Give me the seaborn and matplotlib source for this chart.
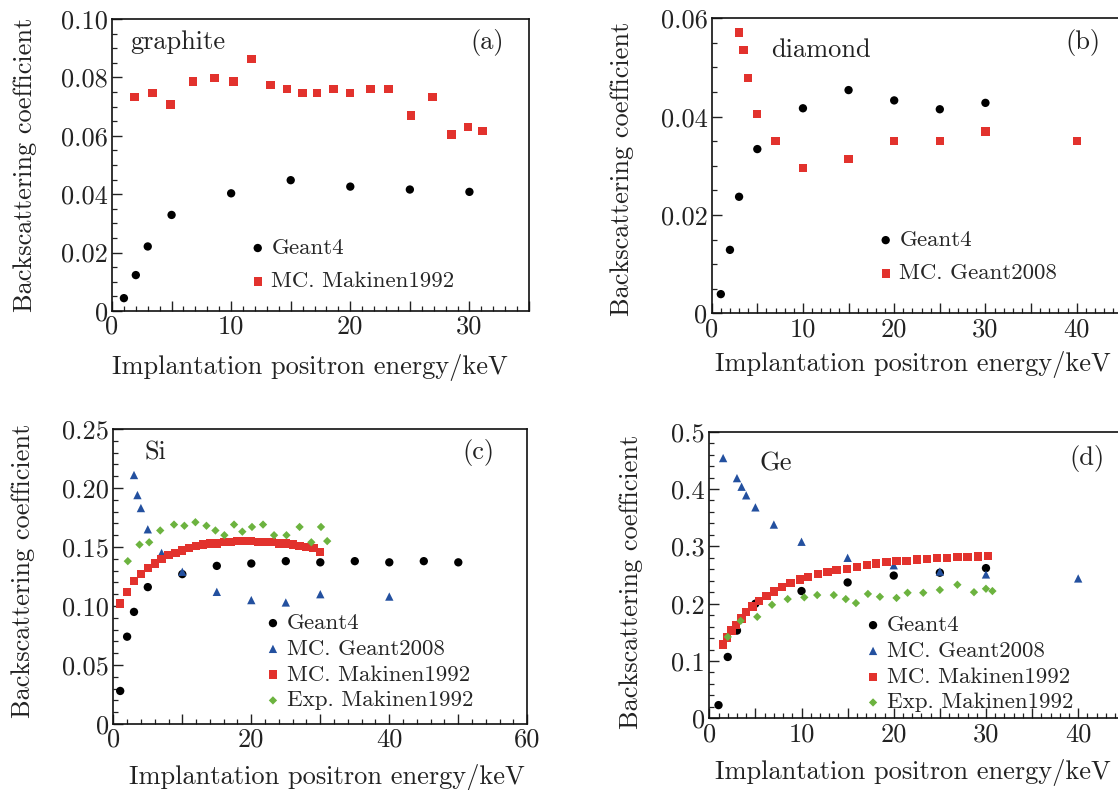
import seaborn as sns
import matplotlib.pyplot as plt
from matplotlib.ticker import MultipleLocator, FuncFormatter

# ---- data ----
# (a) graphite
graphite_geant4_x = [1, 2, 3, 5, 10, 15, 20, 25, 30]
graphite_geant4_y = [0.0044, 0.0123, 0.0221, 0.0329, 0.0403, 0.0448, 0.0426, 0.0416, 0.0408]
graphite_mak_x = [1.9, 3.4, 4.9, 6.8, 8.6, 10.2, 11.7, 13.3, 14.7, 16.0, 17.2, 18.6, 20.0, 21.7,
                  23.2, 25.1, 26.9, 28.5, 29.9, 31.1]
graphite_mak_y = [0.0734, 0.0747, 0.0707, 0.0786, 0.0799, 0.0786, 0.0864, 0.0774, 0.0760, 0.0747,
                  0.0747, 0.0760, 0.0747, 0.0760, 0.0760, 0.0669, 0.0734, 0.0604, 0.0630, 0.0617]

# (b) diamond
diamond_geant4_x = [1, 2, 3, 5, 10, 15, 20, 25, 30]
diamond_geant4_y = [0.0039, 0.0129, 0.0237, 0.0334, 0.0417, 0.0454, 0.0433, 0.0415, 0.0428]
diamond_g2008_x = [3, 3.5, 4, 5, 7, 10, 15, 20, 25, 30, 40]
diamond_g2008_y = [0.0571, 0.0535, 0.0479, 0.0406, 0.0351, 0.0296, 0.0314, 0.0351, 0.0351, 0.0370, 0.0351]

# (c) Si
si_geant4_x = [1, 2, 3, 5, 10, 15, 20, 25, 30, 35, 40, 45, 50]
si_geant4_y = [0.028, 0.074, 0.095, 0.116, 0.127, 0.134, 0.136, 0.138, 0.137, 0.138, 0.137, 0.138, 0.137]
si_g2008_x = [3, 3.5, 4, 5, 7, 10, 15, 20, 25, 30, 40]
si_g2008_y = [0.211, 0.194, 0.183, 0.165, 0.145, 0.129, 0.112, 0.105, 0.103, 0.110, 0.108]
si_mc_x = list(range(1, 31))
si_mc_y = [0.102, 0.112, 0.121, 0.127, 0.132, 0.136, 0.140, 0.143, 0.145, 0.147,
           0.149, 0.151, 0.152, 0.153, 0.153, 0.154, 0.154, 0.155, 0.155, 0.155,
           0.154, 0.154, 0.154, 0.153, 0.153, 0.152, 0.151, 0.150, 0.149, 0.146]
si_exp_x = [2.1, 3.8, 5.2, 6.8, 8.8, 10.3, 11.9, 13.5, 14.8, 16.1, 17.5, 18.7, 20.1, 21.7,
            23.3, 25.1, 27.0, 28.7, 30.1, 31.0]
si_exp_y = [0.138, 0.152, 0.154, 0.164, 0.169, 0.168, 0.171, 0.168, 0.164, 0.160, 0.169, 0.163,
            0.167, 0.169, 0.160, 0.160, 0.167, 0.154, 0.167, 0.155]

# (d) Ge
ge_geant4_x = [1, 2, 3, 5, 10, 15, 20, 25, 30]
ge_geant4_y = [0.023, 0.107, 0.153, 0.200, 0.222, 0.237, 0.249, 0.254, 0.262]
ge_g2008_x = [1.5, 3, 3.5, 4, 5, 7, 10, 15, 20, 25, 30, 40]
ge_g2008_y = [0.454, 0.419, 0.404, 0.389, 0.368, 0.338, 0.308, 0.280, 0.267, 0.256, 0.251, 0.244]
ge_mc_x = [1.5, 1.9, 2.4, 2.9, 3.5, 4.0, 4.7, 5.4, 6.2, 7.0, 7.9, 8.8, 9.8, 10.7, 11.8, 12.8,
           13.8, 14.9, 16.0, 17.1, 18.1, 19.2, 20.3, 21.4, 22.5, 23.6, 24.7, 25.8, 26.9, 28.0,
           29.1, 30.2]
ge_mc_y = [0.129, 0.141, 0.153, 0.163, 0.174, 0.186, 0.195, 0.205, 0.213, 0.221, 0.229, 0.236,
           0.242, 0.247, 0.252, 0.255, 0.259, 0.261, 0.264, 0.267, 0.270, 0.273, 0.274, 0.275,
           0.277, 0.278, 0.280, 0.280, 0.281, 0.281, 0.282, 0.283]
ge_exp_x = [2.0, 3.4, 5.2, 6.8, 8.5, 10.3, 11.7, 13.5, 14.8, 15.9, 17.2, 18.5, 20.3, 21.5,
            23.2, 25.0, 26.9, 28.7, 30.0, 30.7]
ge_exp_y = [0.142, 0.170, 0.177, 0.198, 0.208, 0.211, 0.215, 0.215, 0.208, 0.201, 0.217, 0.212,
            0.210, 0.219, 0.219, 0.224, 0.233, 0.220, 0.226, 0.222]

# ---- style ----
sns.set_style("ticks")
plt.rcParams['font.family'] = ['cmr10', 'DejaVu Serif']
plt.rcParams['mathtext.fontset'] = 'cm'
plt.rcParams['axes.formatter.use_mathtext'] = True
plt.rcParams['axes.unicode_minus'] = False

RED = "#e2322d"
BLUE = "#23509f"
GREEN = "#6cb33f"
BLACK = "#000000"
FS = 19
LEG_FS = 16.5

W, H = 1118, 790
fig = plt.figure(figsize=(W / 100, H / 100), dpi=100)


def px_axes(left, top, width, height):
    return fig.add_axes([left / W, 1 - (top + height) / H, width / W, height / H])


def style(ax, xlim, ylim, xmaj, xmin, xlab_every, ymaj, ymin, ydec):
    ax.set_xlim(*xlim)
    ax.set_ylim(*ylim)
    ax.xaxis.set_major_locator(MultipleLocator(xmaj))
    ax.xaxis.set_minor_locator(MultipleLocator(xmin))
    ax.yaxis.set_major_locator(MultipleLocator(ymaj))
    ax.yaxis.set_minor_locator(MultipleLocator(ymin))
    ax.xaxis.set_major_formatter(FuncFormatter(
        lambda v, p: str(int(round(v))) if abs(v / xlab_every - round(v / xlab_every)) < 1e-6 else ""))
    ax.yaxis.set_major_formatter(FuncFormatter(
        lambda v, p: "0" if abs(v) < 1e-9 else f"{v:.{ydec}f}"))
    ax.tick_params(which='both', direction='in', top=False, right=False,
                   labelsize=FS, colors='#222222', pad=3)
    ax.tick_params(which='major', length=7, width=1)
    ax.tick_params(which='minor', length=3.5, width=0.9)
    for s in ax.spines.values():
        s.set_visible(True)
        s.set_linewidth(1.2)
        s.set_color('#111111')
    ax.set_xlabel("Implantation positron energy/keV", fontsize=FS, color='#222222')
    ax.set_ylabel("Backscattering coefficient", fontsize=FS, color='#222222')
    ax.xaxis.label.set_va('center')
    ax.yaxis.label.set_va('center')


def pts(ax, x, y, label, color, marker, s):
    sns.scatterplot(x=x, y=y, ax=ax, label=label, color=color, marker=marker,
                    s=s, linewidth=0, edgecolor='none')


S_DOT, S_SQ, S_TRI, S_DIA = 36, 36, 36, 18

# (a) graphite
ax = px_axes(112, 19, 417, 292)
pts(ax, graphite_geant4_x, graphite_geant4_y, "Geant4", BLACK, 'o', S_DOT)
pts(ax, graphite_mak_x, graphite_mak_y, "MC. Makinen1992", RED, 's', S_SQ)
style(ax, (0, 35), (0, 0.1), 5, 1, 10, 0.02, 0.005, 2)
ax.text(0.043, 0.92, "graphite", transform=ax.transAxes, fontsize=FS, va='center', ha='left', color='#222222')
ax.text(0.94, 0.92, "(a)", transform=ax.transAxes, fontsize=FS, va='center', ha='right', color='#222222')
ax.legend(loc='upper left', bbox_to_anchor=(0.333, 0.25), frameon=False, fontsize=LEG_FS,
          handlelength=0.6, handletextpad=0.3, borderpad=0, borderaxespad=0, labelspacing=0.58)
ax.xaxis.set_label_coords(0.475, -0.195)
ax.yaxis.set_label_coords(-0.209, 0.5)

# (b) diamond
ax = px_axes(711.7, 18.3, 410.6, 295)
pts(ax, diamond_geant4_x, diamond_geant4_y, "Geant4", BLACK, 'o', S_DOT)
pts(ax, diamond_g2008_x, diamond_g2008_y, "MC. Geant2008", RED, 's', S_SQ)
style(ax, (0, 45), (0, 0.06), 5, 1, 10, 0.02, 0.005, 2)
ax.text(0.144, 0.893, "diamond", transform=ax.transAxes, fontsize=FS, va='center', ha='left', color='#222222')
ax.text(0.946, 0.917, "(b)", transform=ax.transAxes, fontsize=FS, va='center', ha='right', color='#222222')
ax.legend(loc='upper left', bbox_to_anchor=(0.407, 0.282), frameon=False, fontsize=LEG_FS,
          handlelength=0.6, handletextpad=0.3, borderpad=0, borderaxespad=0, labelspacing=0.58)
ax.xaxis.set_label_coords(0.49, -0.175)
ax.yaxis.set_label_coords(-0.218, 0.49)

# (c) Si
ax = px_axes(113.3, 429, 414, 295)
pts(ax, si_geant4_x, si_geant4_y, "Geant4", BLACK, 'o', S_DOT)
pts(ax, si_g2008_x, si_g2008_y, "MC. Geant2008", BLUE, '^', S_TRI)
pts(ax, si_mc_x, si_mc_y, "MC. Makinen1992", RED, 's', S_SQ)
pts(ax, si_exp_x, si_exp_y, "Exp. Makinen1992", GREEN, 'D', S_DIA)
style(ax, (0, 60), (0, 0.25), 10, 2, 20, 0.05, 0.01, 2)
ax.text(0.075, 0.92, "Si", transform=ax.transAxes, fontsize=FS, va='center', ha='left', color='#222222')
ax.text(0.92, 0.92, "(c)", transform=ax.transAxes, fontsize=FS, va='center', ha='right', color='#222222')
ax.legend(loc='upper left', bbox_to_anchor=(0.369, 0.376), frameon=False, fontsize=LEG_FS,
          handlelength=0.6, handletextpad=0.3, borderpad=0, borderaxespad=0, labelspacing=0.25)
ax.xaxis.set_label_coords(0.516, -0.18)
ax.yaxis.set_label_coords(-0.219, 0.52)

# (d) Ge
ax = px_axes(709.3, 431.7, 415, 286.6)
pts(ax, ge_geant4_x, ge_geant4_y, "Geant4", BLACK, 'o', S_DOT)
pts(ax, ge_g2008_x, ge_g2008_y, "MC. Geant2008", BLUE, '^', S_TRI)
pts(ax, ge_mc_x, ge_mc_y, "MC. Makinen1992", RED, 's', S_SQ)
pts(ax, ge_exp_x, ge_exp_y, "Exp. Makinen1992", GREEN, 'D', S_DIA)
style(ax, (0, 45), (0, 0.5), 5, 1, 10, 0.1, 0.02, 1)
ax.text(0.12, 0.89, "Ge", transform=ax.transAxes, fontsize=FS, va='center', ha='left', color='#222222')
ax.text(0.953, 0.907, "(d)", transform=ax.transAxes, fontsize=FS, va='center', ha='right', color='#222222')
ax.legend(loc='upper left', bbox_to_anchor=(0.378, 0.36), frameon=False, fontsize=LEG_FS,
          handlelength=0.6, handletextpad=0.3, borderpad=0, borderaxespad=0, labelspacing=0.25)
ax.xaxis.set_label_coords(0.49, -0.19)
ax.yaxis.set_label_coords(-0.189, 0.477)

fig.savefig("out.png", dpi=100)
